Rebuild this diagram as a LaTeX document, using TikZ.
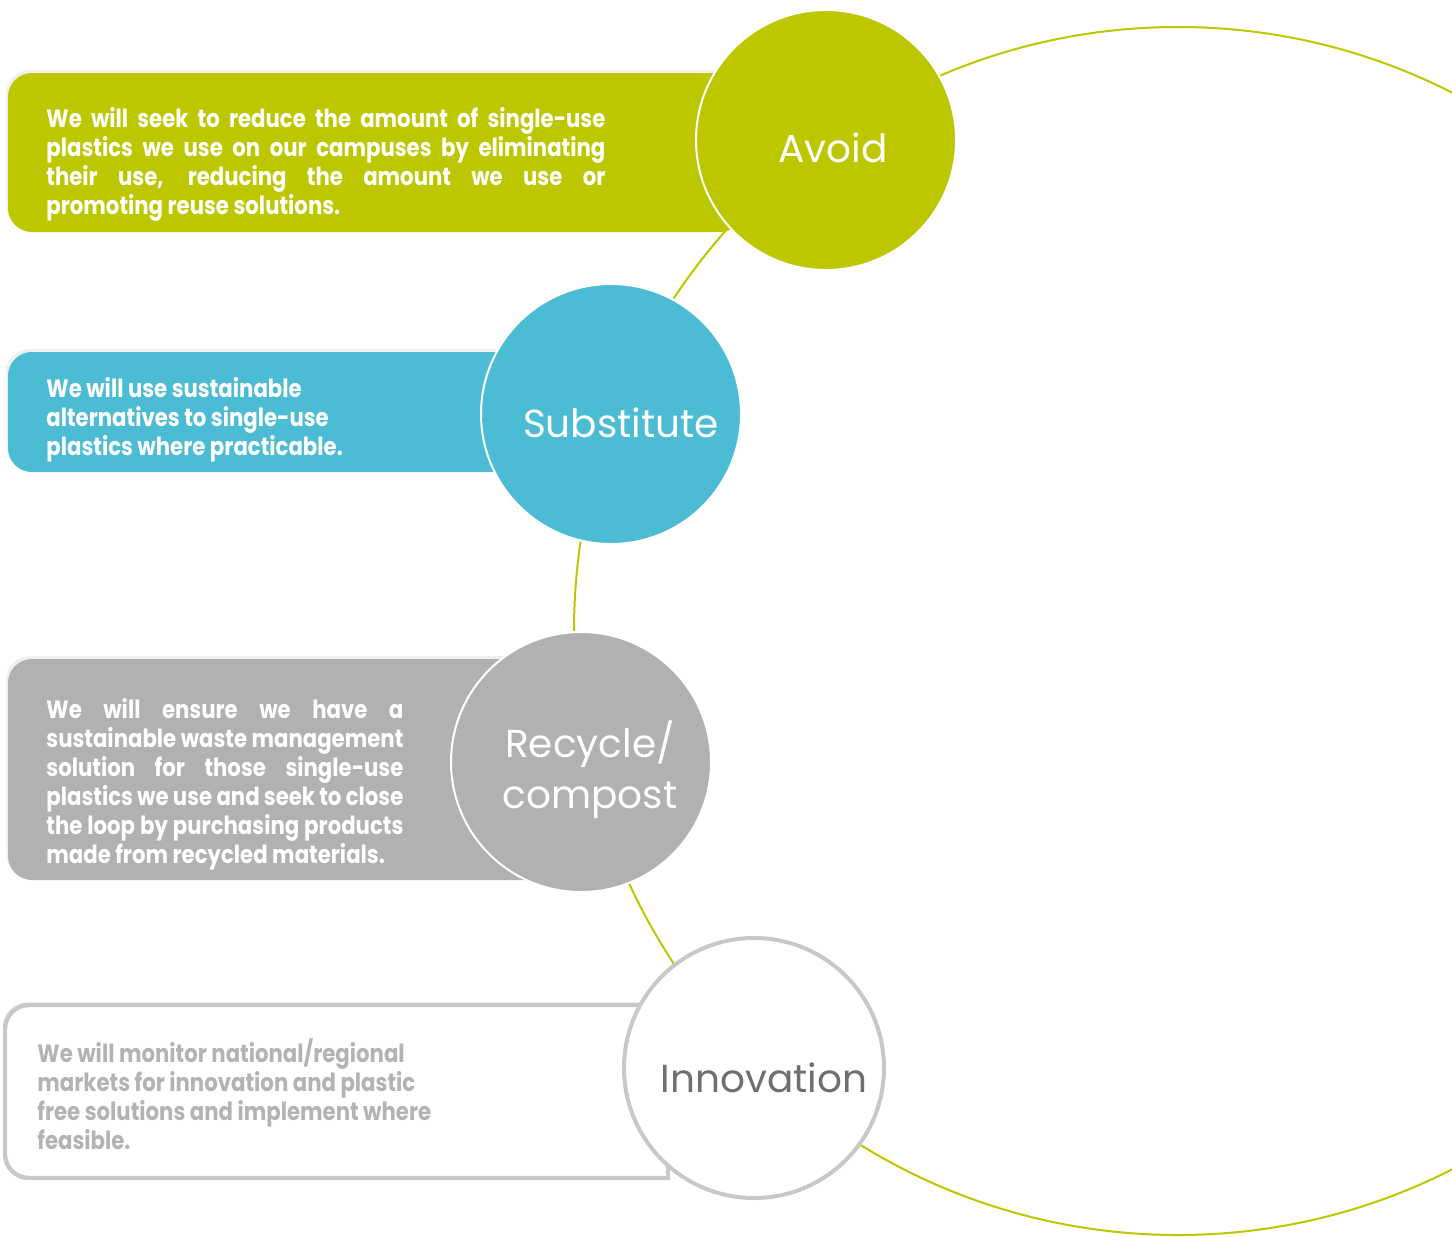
\documentclass[tikz,border=0pt]{standalone}
\usepackage{fontspec}
\setmainfont{Poppins}
\newfontfamily\bodyfont[FakeStretch=0.85]{Poppins}
\newfontfamily\labelfont{Poppins}
\usetikzlibrary{positioning,shadows}
\definecolor{avoidgreen}{HTML}{BDC700}
\definecolor{subblue}{HTML}{4BBCD3}
\definecolor{recgray}{HTML}{B1B1B1}
\definecolor{innoline}{HTML}{C8C8C8}
\definecolor{innolabel}{HTML}{6F6F6F}
\definecolor{innotext}{HTML}{B3B3B3}
\begin{document}
\begin{tikzpicture}[x=0.5pt,y=-0.5pt,
	box/.style={rectangle,rounded corners=12pt,inner sep=0pt,outer sep=0pt,anchor=north west,
		drop shadow={shadow xshift=-1pt,shadow yshift=1.5pt,opacity=0.12}},
	stage/.style={circle,inner sep=0pt,minimum size=130pt,draw=white,line width=1pt},
	bodytext/.style={inner sep=0pt,anchor=west,align=left,text=white,
		font=\bodyfont\bfseries\fontsize{12.5}{14.5}\selectfont},
	stagelabel/.style={inner sep=0pt,align=center,text=white,
		font=\labelfont\fontsize{19.5}{25.5}\selectfont}]
	\clip (0,0) rectangle (1452,1237);
	% the loop behind the four stages
	\node[circle,draw=avoidgreen,line width=1pt,inner sep=0pt,minimum size=604pt] (loop) at (1178,631) {};
	% boxes
	\node[box,fill=avoidgreen,minimum width=368pt,minimum height=79.5pt] (avoidbox) at (8,73) {};
	\node[box,fill=subblue,minimum width=276pt,minimum height=60pt] (subbox) at (8,352) {};
	\node[box,fill=recgray,minimum width=276pt,minimum height=110.5pt] (recbox) at (8,659) {};
	\node[box,fill=white,minimum width=331.5pt,minimum height=86.5pt] (innobox) at (5,1005) {};
	\draw[innoline,line width=2.2pt,rounded corners=12pt,line cap=rect] (innobox.south east) -- (innobox.north east)
		-- (innobox.north west) -- (innobox.south west) -- (innobox.south east);
	% texts
	\node[bodytext] (avoidtext) at (46,164) {%
		\makebox[279.5pt][s]{We will seek to reduce the amount of single-use}\\
		\makebox[279.5pt][s]{plastics we use on our campuses by eliminating}\\
		\makebox[279.5pt][s]{their use, reducing the amount we use or}\\
		promoting reuse solutions.};
	\node[bodytext] (subtext) at (46,420) {We will use sustainable\\alternatives to single-use\\plastics where practicable.};
	\node[bodytext] (rectext) at (46,784) {%
		\makebox[178.5pt][s]{We will ensure we have a}\\
		\makebox[178.5pt][s]{sustainable waste management}\\
		\makebox[178.5pt][s]{solution for those single-use}\\
		\makebox[178.5pt][s]{plastics we use and seek to close}\\
		\makebox[178.5pt][s]{the loop by purchasing products}\\
		made from recycled materials.};
	\node[bodytext,text=innotext] (innotext) at (37,1094) {We will monitor national/regional\\markets for innovation and plastic\\free solutions and implement where\\feasible.};
	% stages
	\node[stage,fill=avoidgreen] (avoid) at (826,140) {};
	\node[stage,fill=subblue] (substitute) at (611,414) {};
	\node[stage,fill=recgray] (recycle) at (581,762) {};
	\node[stage,fill=white,draw=innoline,line width=2pt,minimum size=130pt] (innovation) at (754,1068) {};
	\node[stagelabel] (avoidlabel) at (833,148) {Avoid};
	\node[stagelabel] (sublabel) at (621,423) {Substitute};
	\node[stagelabel] (reclabel) at (590,770) {Recycle/\\compost};
	\node[stagelabel,text=innolabel] (innolabel) at (764,1078) {Innovation};
\end{tikzpicture}
\end{document}
